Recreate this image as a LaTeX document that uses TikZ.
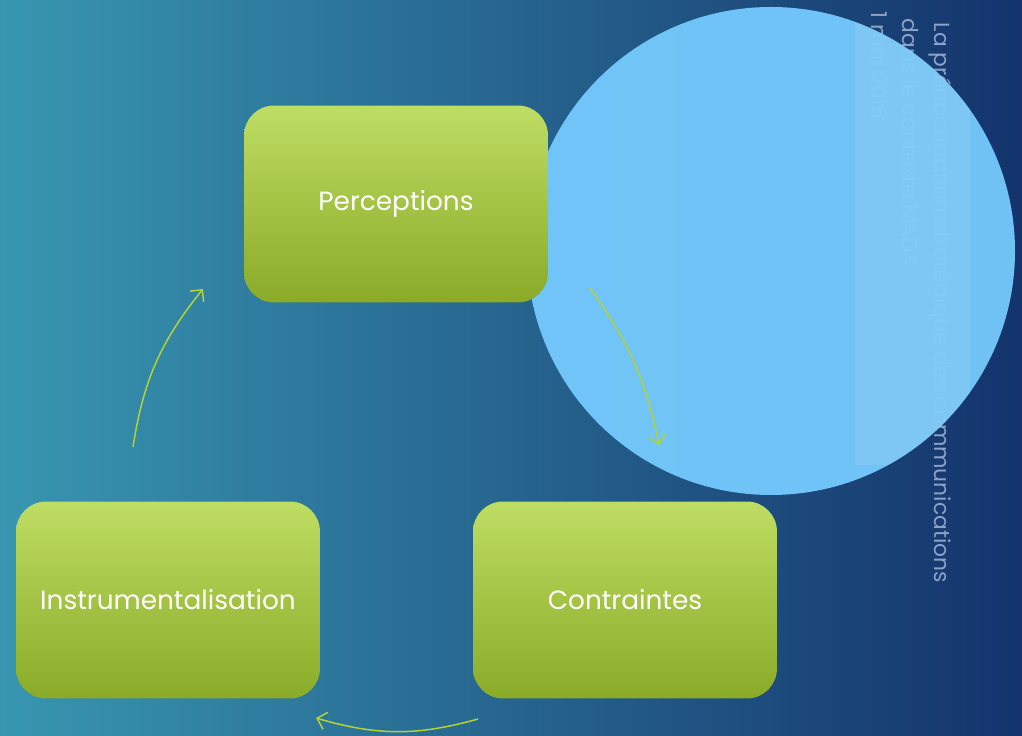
\documentclass[tikz,border=0pt]{standalone}
\usepackage{fontspec}
\setmainfont{Poppins}
\usetikzlibrary{arrows.meta}
\definecolor{bgteal}{HTML}{3896B1}
\definecolor{bgmid}{HTML}{2A759A}
\definecolor{bgnavy}{HTML}{14336C}
\definecolor{boxtop}{HTML}{BEDD63}
\definecolor{boxbot}{HTML}{8AAA28}
\definecolor{sky}{HTML}{75CAFD}
\definecolor{skystrip}{HTML}{B8D8EC}
\definecolor{arrowgreen}{HTML}{B3D335}
\definecolor{notetext}{HTML}{8BA3C9}
\tikzset{
  cyclebox/.style={rounded corners=0.6cm,minimum width=6.08cm,minimum height=3.94cm,
    top color=boxtop,bottom color=boxbot,text=white,inner sep=0pt,
    font=\fontsize{15}{18}\selectfont},
  cyclearrow/.style={arrowgreen,line width=0.85pt,-{Straight Barb[length=5pt,width=10pt]}},
  noteline/.style={rotate=-90,anchor=east,text=notetext,inner sep=0pt,
    font=\fontsize{12.4}{15}\selectfont}
}
\begin{document}
\begin{tikzpicture}[x=0.02cm,y=-0.02cm]
\useasboundingbox (0,0) rectangle (1022,736);
\clip (0,0) rectangle (1022,736);
\shade[left color=bgteal,middle color=bgmid,right color=bgnavy] (0,0) rectangle (1022,736);
\node[noteline] (title) at (940,583) {La préoccupation stratégique des communications};
\node[noteline] (context) at (910,268) {dans le contexte MADA};
\node[noteline] (date) at (880,120) {1 mai 2016};
\fill[sky,opacity=0.95] (771,251) circle (244);
\begin{scope}
\clip (771,251) circle (244);
\fill[skystrip,opacity=0.2] (855,0) rectangle (970,465);
\end{scope}
\node[cyclebox] (perc) at (396,204) {Perceptions};
\node[cyclebox] (instr) at (168,600) {Instrumentalisation};
\node[cyclebox] (contr) at (625,600) {Contraintes};
\path (590,288) coordinate (a1) (659,445) coordinate (b1)
(478,719) coordinate (a2) (316,718) coordinate (b2)
(133,447) coordinate (a3) (203,289) coordinate (b3);
\draw[cyclearrow] (a1) to[bend left=12] (b1);
\draw[cyclearrow] (a2) to[bend left=16] (b2);
\draw[cyclearrow] (a3) to[bend left=15] (b3);
\end{tikzpicture}
\end{document}
